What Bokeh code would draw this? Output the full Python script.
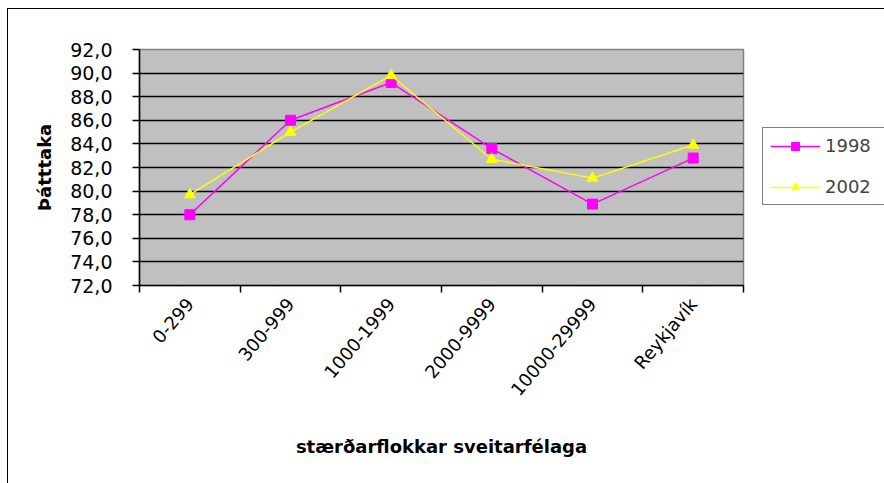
import numpy as np
from bokeh.plotting import figure
from bokeh.models import FixedTicker, Legend, LegendItem, Range1d
from bokeh.embed import file_html
from bokeh.resources import INLINE

categories = ["0-299", "300-999", "1000-1999", "2000-9999", "10000-29999", "Reykjavík"]
series_1998 = [78.0, 86.0, 89.2, 83.6, 78.9, 82.8]
series_2002 = [79.7, 85.0, 89.8, 82.7, 81.1, 83.9]
y_ticks = [72, 74, 76, 78, 80, 82, 84, 86, 88, 90, 92]

FONT = "DejaVu Sans"

x = np.arange(len(categories)) + 0.5

p = figure(frame_width=604, frame_height=236, output_backend="svg", toolbar_location=None,
           x_range=Range1d(0, len(categories)), y_range=Range1d(72, 92),
           min_border_left=131, min_border_right=140, min_border_top=40, min_border_bottom=198,
           background_fill_color="#C0C0C0", border_fill_color="white",
           outline_line_color="#808080", outline_line_width=1.5)
p.styles = {"margin-left": "7px", "margin-top": "8px",
            "border-left": "1px solid #000000", "border-top": "1px solid #000000"}

# y axis
p.yaxis.ticker = FixedTicker(ticks=y_ticks)
p.yaxis.major_label_overrides = {t: f"{t:.1f}".replace(".", ",") for t in y_ticks}
p.yaxis.axis_label = "Þátttaka"
p.yaxis.axis_label_text_font = FONT
p.yaxis.axis_label_text_font_style = "bold"
p.yaxis.axis_label_text_font_size = "18px"
p.yaxis.axis_label_text_color = "black"
p.yaxis.axis_label_standoff = 12
p.yaxis.major_label_text_font = FONT
p.yaxis.major_label_text_font_size = "19px"
p.yaxis.major_label_text_color = "black"
p.yaxis.major_label_standoff = 20
p.yaxis.major_tick_out = 7
p.yaxis.major_tick_in = 0
p.yaxis.minor_tick_out = 0
p.yaxis.minor_tick_in = 0
p.yaxis.axis_line_color = "black"
p.yaxis.axis_line_width = 1.5
p.yaxis.major_tick_line_width = 1.5

# x axis
p.xaxis.ticker = FixedTicker(ticks=list(x), minor_ticks=list(range(len(categories) + 1)))
p.xaxis.major_label_overrides = {float(v): c for v, c in zip(x, categories)}
p.xaxis.major_label_orientation = 0.87
p.xaxis.major_label_text_font = FONT
p.xaxis.major_label_text_font_size = "18px"
p.xaxis.major_label_text_color = "black"
p.xaxis.major_label_standoff = 8
p.xaxis.major_tick_out = 0
p.xaxis.major_tick_in = 0
p.xaxis.minor_tick_out = 7
p.xaxis.minor_tick_in = 0
p.xaxis.minor_tick_line_color = "black"
p.xaxis.minor_tick_line_width = 1.5
p.xaxis.axis_line_color = "black"
p.xaxis.axis_line_width = 1.5
p.xaxis.axis_label = "stærðarflokkar sveitarfélaga"
p.xaxis.axis_label_text_font = FONT
p.xaxis.axis_label_text_font_style = "bold"
p.xaxis.axis_label_text_font_size = "18px"
p.xaxis.axis_label_text_color = "black"
p.xaxis.axis_label_standoff = 26

p.xgrid.grid_line_color = None
p.ygrid.ticker = FixedTicker(ticks=y_ticks)
p.ygrid.grid_line_color = "black"
p.ygrid.grid_line_width = 1.5

l1 = p.line(x, series_1998, line_color="#FF00FF", line_width=1.5)
m1 = p.scatter(x, series_1998, marker="square", size=10, fill_color="#FF00FF", line_color="#FF00FF")
l2 = p.line(x, series_2002, line_color="#FFFF00", line_width=1.5)
m2 = p.scatter(x, series_2002, marker="triangle", size=11, fill_color="#FFFF00", line_color="#FFFF00")

legend = Legend(items=[LegendItem(label="1998", renderers=[l1, m1]),
                       LegendItem(label="2002", renderers=[l2, m2])],
                location=(19, 80), orientation="vertical",
                glyph_width=50, glyph_height=20, label_height=20, label_width=55,
                label_standoff=5, spacing=20, padding=7, margin=0,
                border_line_color="black", border_line_width=1,
                background_fill_color="white", background_fill_alpha=1,
                label_text_font=FONT, label_text_font_size="18px")
p.add_layout(legend, "right")

open("out.html", "w").write(file_html(p, INLINE))
